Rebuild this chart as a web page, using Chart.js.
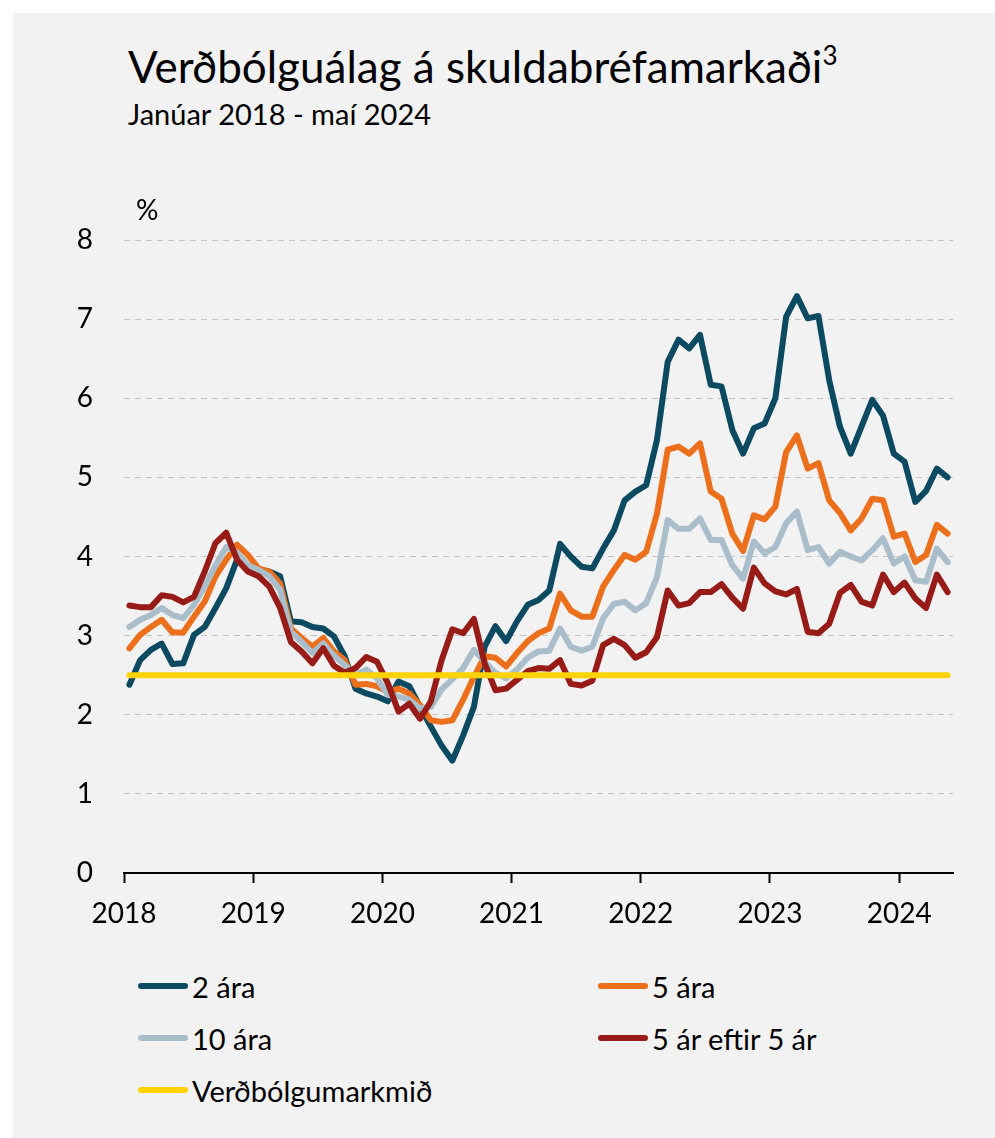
<!DOCTYPE html>
<html lang="is">
<head>
<meta charset="utf-8">
<title>Verðbólguálag á skuldabréfamarkaði</title>
<script src="https://cdn.jsdelivr.net/npm/chart.js@4.4.1/dist/chart.umd.min.js"></script>
<style>
  html, body { margin: 0; padding: 0; background: #fff; }
  body { width: 995px; height: 1138px; position: relative; overflow: hidden; font-family: Lato, sans-serif; color: #000; }
  #panel { position: absolute; left: 13px; top: 13px; width: 982px; height: 1125px; background: #f2f2f2; }
  #title { position: absolute; left: 128px; top: 40px; font-size: 44px; line-height: 52px; white-space: nowrap; }
  #title sup { font-size: 26px; vertical-align: 18px; line-height: 0; }
  #subtitle { position: absolute; left: 128px; top: 96px; font-size: 29px; line-height: 35px; white-space: nowrap; }
  #chartCanvas { position: absolute; left: 0; top: 0; }
  .legend-item { position: absolute; height: 40px; display: flex; align-items: center; font-size: 29px; white-space: nowrap; }
  .legend-swatch { width: 50px; height: 6px; border-radius: 3px; margin-right: 4px; }
</style>
</head>
<body>
<div id="panel"></div>
<div id="title">Verðbólguálag á skuldabréfamarkaði<sup>3</sup></div>
<div id="subtitle">Janúar 2018 - maí 2024</div>
<canvas id="chartCanvas" width="995" height="960"></canvas>
<div id="legend"></div>
<script>
// Verðbólguálag, mánaðargildi janúar 2018 - maí 2024 (%)
const years = ['2018', '2019', '2020', '2021', '2022', '2023', '2024'];

const twoYear = [
  2.38, 2.69, 2.82, 2.90, 2.64, 2.65, 3.01, 3.11, 3.35, 3.60, 3.96, 3.88,
  3.83, 3.81, 3.75, 3.18, 3.17, 3.11, 3.09, 2.99, 2.74, 2.33, 2.27, 2.23,
  2.17, 2.42, 2.36, 2.10, 1.85, 1.61, 1.42, 1.74, 2.10, 2.86, 3.12, 2.93,
  3.18, 3.39, 3.45, 3.57, 4.16, 4.00, 3.87, 3.85, 4.10, 4.33, 4.71, 4.82,
  4.90, 5.47, 6.46, 6.74, 6.63, 6.80, 6.17, 6.15, 5.60, 5.30, 5.62, 5.68,
  6.00, 7.03, 7.29, 7.01, 7.04, 6.23, 5.64, 5.30, 5.64, 5.98, 5.78, 5.30,
  5.20, 4.69, 4.83, 5.11, 5.00
];

const fiveYear = [
  2.84, 3.01, 3.11, 3.20, 3.04, 3.04, 3.24, 3.43, 3.75, 3.96, 4.15, 4.02,
  3.85, 3.81, 3.66, 3.09, 2.97, 2.86, 2.97, 2.80, 2.69, 2.38, 2.39, 2.36,
  2.29, 2.33, 2.27, 2.12, 1.93, 1.91, 1.93, 2.19, 2.48, 2.74, 2.72, 2.61,
  2.78, 2.93, 3.03, 3.09, 3.53, 3.32, 3.24, 3.24, 3.62, 3.83, 4.02, 3.96,
  4.06, 4.54, 5.35, 5.39, 5.30, 5.43, 4.82, 4.73, 4.29, 4.07, 4.52, 4.47,
  4.63, 5.32, 5.53, 5.11, 5.18, 4.71, 4.55, 4.33, 4.48, 4.73, 4.71, 4.25,
  4.29, 3.93, 4.02, 4.40, 4.29
];

const tenYear = [
  3.11, 3.20, 3.26, 3.35, 3.26, 3.22, 3.39, 3.62, 3.89, 4.12, 4.05, 3.89,
  3.83, 3.75, 3.58, 3.05, 2.92, 2.78, 2.90, 2.75, 2.63, 2.50, 2.57, 2.46,
  2.25, 2.23, 2.19, 2.08, 2.10, 2.32, 2.45, 2.59, 2.82, 2.67, 2.53, 2.46,
  2.57, 2.72, 2.80, 2.81, 3.09, 2.86, 2.81, 2.86, 3.22, 3.40, 3.43, 3.32,
  3.41, 3.74, 4.46, 4.35, 4.35, 4.48, 4.21, 4.21, 3.89, 3.72, 4.19, 4.04,
  4.12, 4.42, 4.57, 4.08, 4.12, 3.91, 4.06, 4.00, 3.95, 4.08, 4.23, 3.91,
  4.00, 3.70, 3.68, 4.10, 3.93
];

const fiveInFive = [
  3.38, 3.36, 3.36, 3.51, 3.49, 3.42, 3.49, 3.81, 4.17, 4.30, 3.96, 3.81,
  3.75, 3.62, 3.35, 2.92, 2.80, 2.65, 2.84, 2.62, 2.53, 2.59, 2.73, 2.67,
  2.40, 2.04, 2.14, 1.95, 2.17, 2.69, 3.08, 3.03, 3.21, 2.65, 2.31, 2.33,
  2.44, 2.55, 2.59, 2.58, 2.69, 2.39, 2.37, 2.43, 2.88, 2.96, 2.88, 2.72,
  2.79, 2.98, 3.57, 3.38, 3.41, 3.55, 3.55, 3.65, 3.48, 3.34, 3.86, 3.66,
  3.56, 3.52, 3.59, 3.05, 3.03, 3.15, 3.54, 3.64, 3.43, 3.38, 3.77, 3.55,
  3.67, 3.47, 3.35, 3.77, 3.55
];

const inflationTarget = 2.5;

const seriesNames = ['2 ára', '5 ára', '10 ára', '5 ár eftir 5 ár', 'Verðbólgumarkmið'];
const seriesColors = ['#0c4a61', '#ec6f1b', '#a9bdca', '#971b17', '#ffd200'];

// mánuðir eru teiknaðir á miðjum mánuði: 0 = upphaf janúar 2018
const toPoints = (values) => values.map((v, i) => ({ x: i + 0.5, y: v }));
const lastMonth = twoYear.length - 1;

const unitLabel = {
  id: 'unitLabel',
  afterDraw(chart) {
    const { ctx, chartArea } = chart;
    ctx.save();
    ctx.fillStyle = '#000';
    ctx.font = '28px Lato';
    ctx.textAlign = 'left';
    ctx.textBaseline = 'alphabetic';
    ctx.fillText('%', chartArea.left + 12, chartArea.top - 20);
    ctx.restore();
  }
};

function lineSet(label, values, color, order, width) {
  return {
    label,
    data: toPoints(values),
    borderColor: color,
    backgroundColor: color,
    borderWidth: width,
    pointRadius: 0,
    tension: 0,
    borderJoinStyle: 'round',
    borderCapStyle: 'round',
    order
  };
}

function buildLegend() {
  const legendEl = document.getElementById('legend');
  const colX = [138, 598];
  const rowY = [966, 1018, 1070];
  seriesNames.forEach((name, idx) => {
    const item = document.createElement('div');
    item.className = 'legend-item';
    item.style.left = colX[idx % 2] + 'px';
    item.style.top = rowY[Math.floor(idx / 2)] + 'px';
    item.innerHTML = `<span class="legend-swatch" style="background:${seriesColors[idx]}"></span><span>${name}</span>`;
    legendEl.appendChild(item);
  });
}

function renderChart() {
  Chart.defaults.font.family = 'Lato';
  Chart.defaults.color = '#000';

  const ctx = document.getElementById('chartCanvas').getContext('2d');
  new Chart(ctx, {
    type: 'line',
    data: {
      datasets: [
        lineSet(seriesNames[0], twoYear, seriesColors[0], 4, 6),
        lineSet(seriesNames[1], fiveYear, seriesColors[1], 3, 6),
        lineSet(seriesNames[2], tenYear, seriesColors[2], 2, 6),
        lineSet(seriesNames[3], fiveInFive, seriesColors[3], 1, 6),
        {
          ...lineSet(seriesNames[4], [], seriesColors[4], 0, 6),
          data: [{ x: 0.5, y: inflationTarget }, { x: lastMonth + 0.5, y: inflationTarget }]
        }
      ]
    },
    options: {
      responsive: false,
      animation: false,
      devicePixelRatio: 1,
      layout: { padding: { top: 240, right: 42, left: 0, bottom: 0 } },
      plugins: { legend: { display: false }, tooltip: { enabled: false } },
      scales: {
        x: {
          type: 'linear',
          min: 0,
          max: 77,
          afterBuildTicks: (scale) => {
            scale.ticks = years.map((y, k) => ({ value: k * 12 }));
          },
          afterFit: (scale) => { scale.height = 87; },
          ticks: {
            autoSkip: false,
            maxRotation: 0,
            padding: 14,
            font: { size: 28 },
            callback: (value, index) => years[index]
          },
          grid: { drawOnChartArea: false, drawTicks: true, tickLength: 10, tickColor: '#000', tickWidth: 2 },
          border: { display: true, color: '#000', width: 2 }
        },
        y: {
          min: 0,
          max: 8,
          afterFit: (scale) => { scale.width = 124; },
          ticks: { stepSize: 1, padding: 31, font: { size: 28 } },
          grid: {
            drawTicks: false,
            lineWidth: 1,
            color: (c) => (c.tick && c.tick.value === 0 ? 'rgba(0,0,0,0)' : '#c4c4c4')
          },
          border: { display: false, dash: [6, 5] }
        }
      }
    },
    plugins: [unitLabel]
  });
}

buildLegend();
document.fonts.load('28px Lato').then(renderChart, renderChart);
</script>
</body>
</html>
